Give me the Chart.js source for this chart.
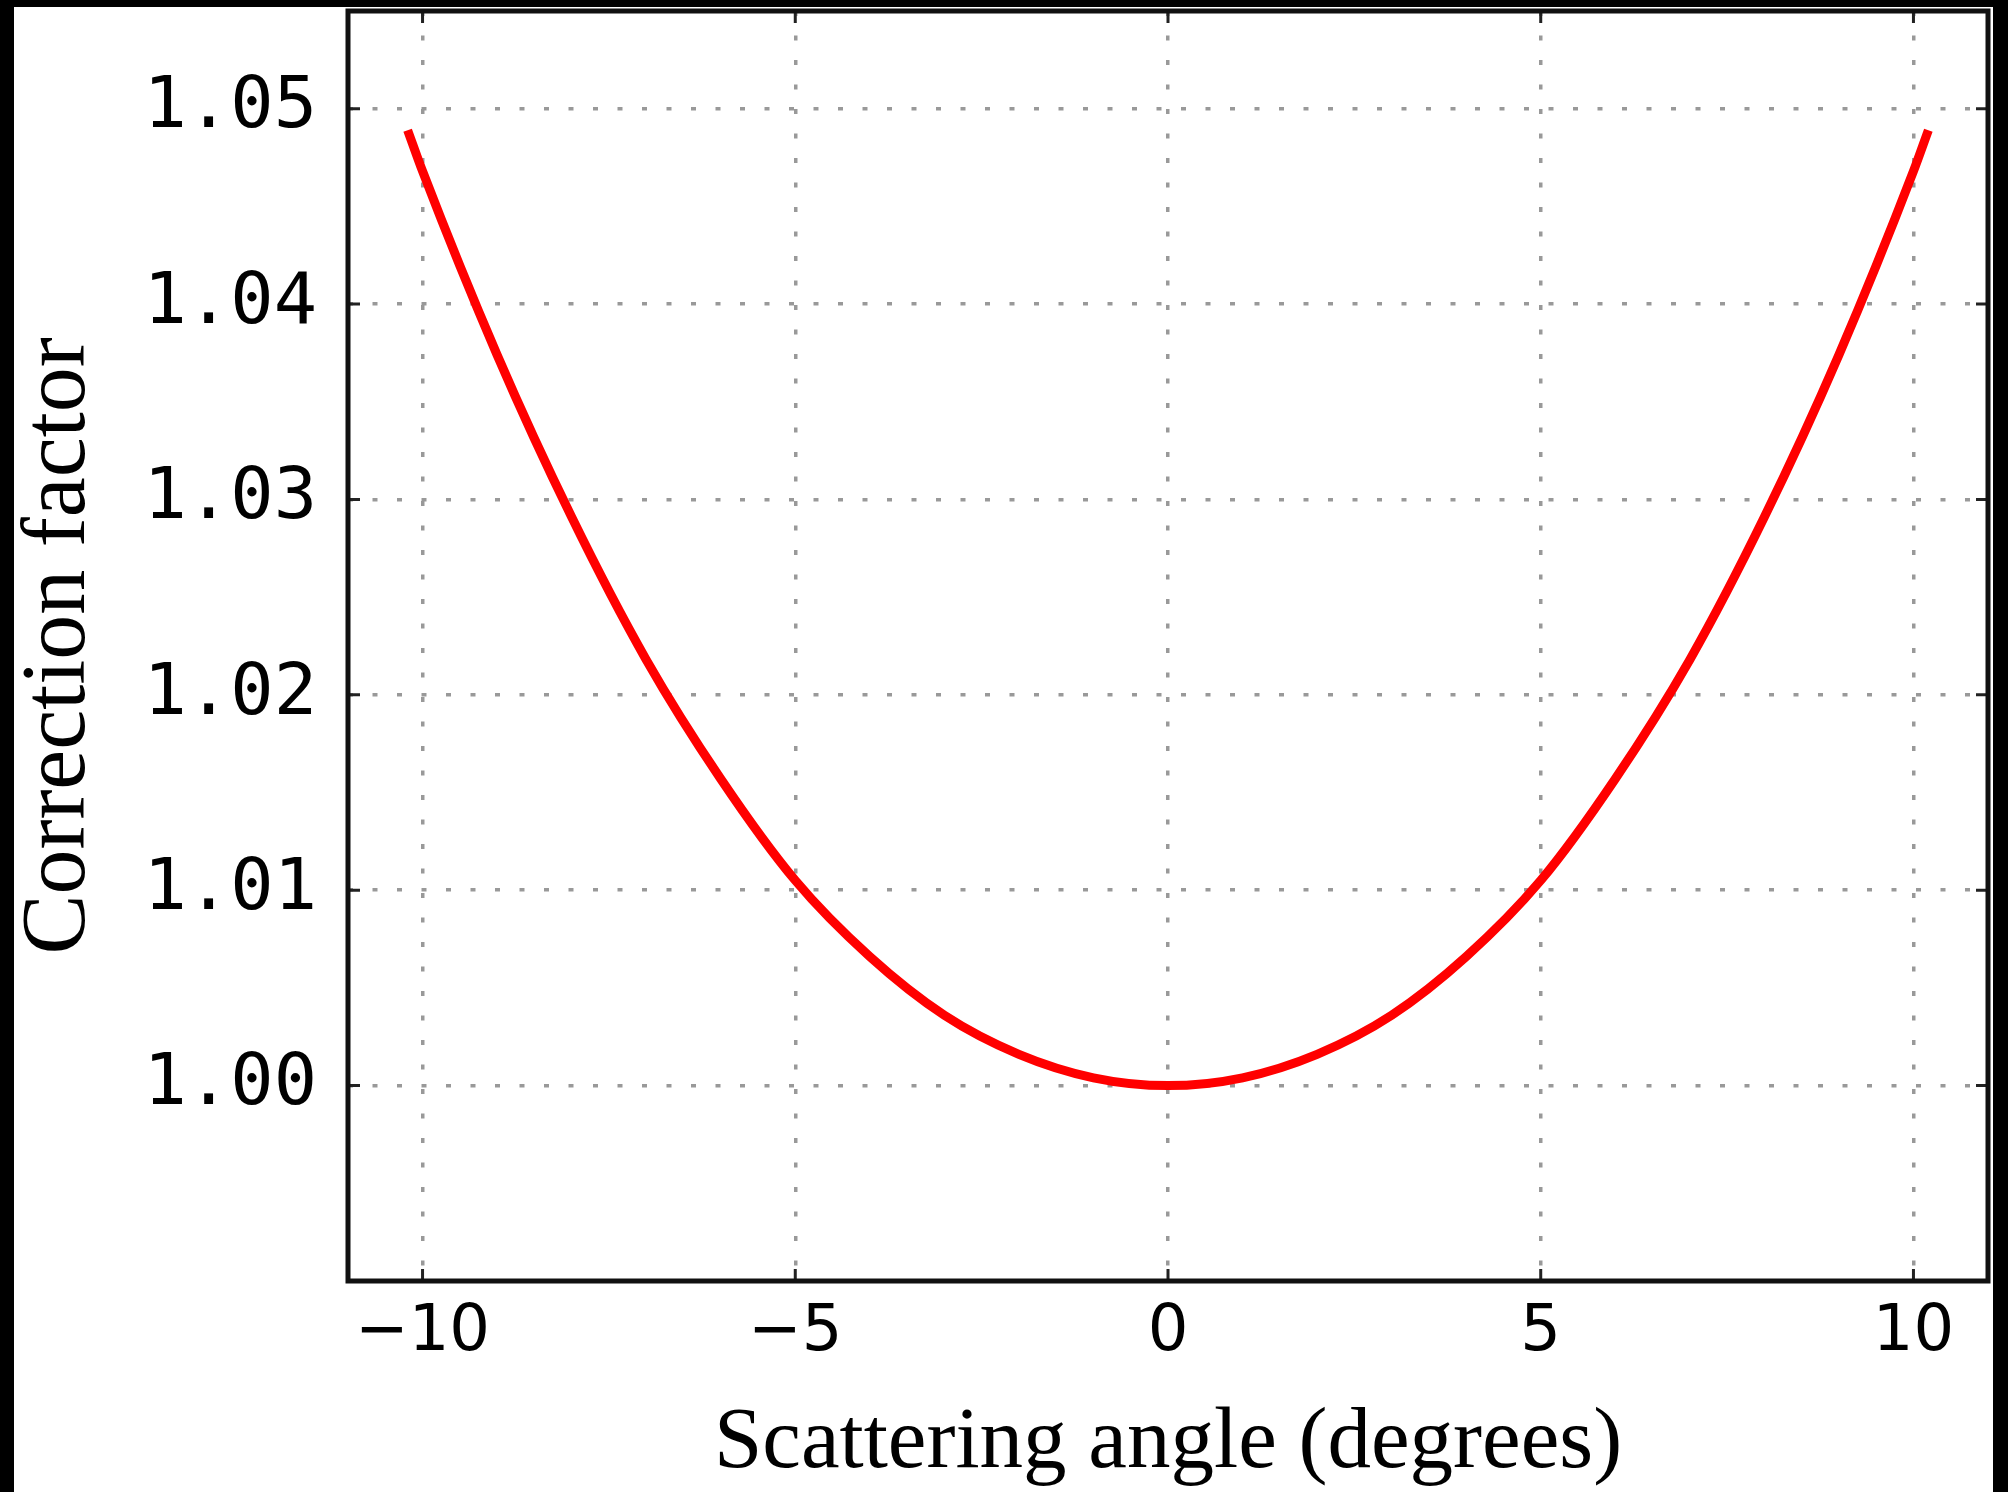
<!DOCTYPE html>
<html>
<head>
<meta charset="utf-8">
<title>Correction factor</title>
<script src="https://cdn.jsdelivr.net/npm/chart.js@4.4.0/dist/chart.umd.min.js"></script>
<style>
  html, body { margin: 0; padding: 0; background: #000; overflow: hidden; }
  #box { position: absolute; left: 14px; top: 7px; width: 1979px; height: 1485px; background: #fff; }
</style>
</head>
<body>
<div id="box"><canvas id="chart"></canvas></div>
<script>
// values
const angles = [-10.2, -10, -9, -8, -7, -6, -5, -4, -3, -2, -1, 0,
                1, 2, 3, 4, 5, 6, 7, 8, 9, 10, 10.2];
const factors = [1.0489, 1.0468, 1.0374, 1.0291, 1.0218, 1.0157, 1.0105, 1.0066, 1.0036, 1.0016, 1.0004, 1.0000,
                 1.0004, 1.0016, 1.0036, 1.0066, 1.0105, 1.0157, 1.0218, 1.0291, 1.0374, 1.0468, 1.0489];
const xTicks = [-10, -5, 0, 5, 10];
const yTicks = [1.00, 1.01, 1.02, 1.03, 1.04, 1.05];

const ctx = document.getElementById('chart').getContext('2d');
const tickLen = 12;

// matplotlib-like box with inward ticks on all four sides
const framePlugin = {
    id: 'frame',
    afterDraw(chart) {
        const { ctx, chartArea: a, scales: { x, y } } = chart;
        ctx.save();
        ctx.strokeStyle = '#222';
        ctx.lineWidth = 3;
        ctx.beginPath();
        xTicks.forEach(v => {
            const px = x.getPixelForValue(v);
            ctx.moveTo(px, a.bottom); ctx.lineTo(px, a.bottom - tickLen);
            ctx.moveTo(px, a.top); ctx.lineTo(px, a.top + tickLen);
        });
        yTicks.forEach(v => {
            const py = y.getPixelForValue(v);
            ctx.moveTo(a.left, py); ctx.lineTo(a.left + tickLen, py);
            ctx.moveTo(a.right, py); ctx.lineTo(a.right - tickLen, py);
        });
        ctx.stroke();
        ctx.strokeStyle = '#111';
        ctx.lineWidth = 5;
        ctx.strokeRect(a.left, a.top, a.right - a.left, a.bottom - a.top);
        ctx.restore();
    }
};

const gridOpts = { color: '#999999', lineWidth: 3.5, drawTicks: false };
const dotted = { display: false, dash: [5, 19.5] };

const chart = new Chart(ctx, {
    type: 'line',
    data: {
        datasets: [{
            data: angles.map((a, i) => ({ x: a, y: factors[i] })),
            borderColor: '#ff0000',
            borderWidth: 9,
            pointRadius: 0,
            fill: false,
            cubicInterpolationMode: 'monotone'
        }]
    },
    options: {
        animation: false,
        responsive: true,
        maintainAspectRatio: false,
        devicePixelRatio: 1,
        layout: { padding: { top: 4, right: 5, left: 0, bottom: 0 } },
        plugins: { legend: { display: false }, tooltip: { enabled: false } },
        scales: {
            x: {
                type: 'linear',
                min: -11,
                max: 11,
                afterBuildTicks: s => { s.ticks = xTicks.map(v => ({ value: v })); },
                afterFit: s => { s.height = 211; s.paddingLeft = 0; s.paddingRight = 0; },
                grid: gridOpts,
                border: dotted,
                ticks: {
                    padding: 14,
                    color: '#000',
                    maxRotation: 0,
                    autoSkip: false,
                    font: { family: 'DejaVu Sans', size: 64 },
                    callback: v => v < 0 ? '\u2212' + Math.abs(v) : String(v)
                },
                title: {
                    display: true,
                    text: 'Scattering angle (degrees)',
                    color: '#000',
                    font: { family: 'Liberation Serif', size: 87, lineHeight: 1 },
                    padding: { top: 0, bottom: 4 }
                }
            },
            y: {
                type: 'linear',
                min: 0.99,
                max: 1.055,
                afterBuildTicks: s => { s.ticks = yTicks.map(v => ({ value: v })); },
                afterFit: s => { s.width = 334; s.paddingTop = 0; s.paddingBottom = 0; },
                grid: gridOpts,
                border: dotted,
                ticks: {
                    padding: 31,
                    color: '#000',
                    font: { family: 'DejaVu Sans Mono', size: 72 },
                    callback: v => v.toFixed(2)
                },
                title: {
                    display: true,
                    text: 'Correction factor',
                    color: '#000',
                    font: { family: 'Liberation Serif', size: 90, lineHeight: 1 },
                    padding: { top: 1, bottom: 0 }
                }
            }
        }
    },
    plugins: [framePlugin]
});
</script>
</body>
</html>
